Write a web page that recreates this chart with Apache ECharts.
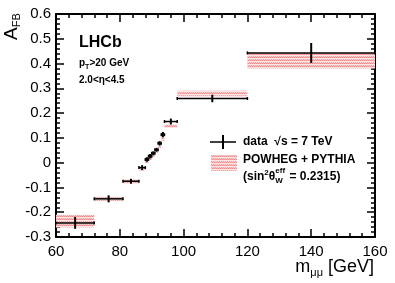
<!DOCTYPE html>
<html><head><meta charset="utf-8">
<script src="https://cdn.jsdelivr.net/npm/echarts@6/dist/echarts.min.js"></script>
</head>
<body style="margin:0;background:#fff">
<div id="c" style="width:395px;height:283px"></div>
<script>
// ---- data ----
const binLo  = [60, 72, 81, 86, 88, 89, 90, 91, 92, 93, 94, 98, 120];
const binHi  = [72, 81, 86, 88, 89, 90, 91, 92, 93, 94, 98, 120, 160];
const dataX  = [66, 76.5, 83.5, 87, 88.5, 89.5, 90.5, 91.5, 92.5, 93.5, 96, 109, 140];
const dataY  = [-0.243, -0.146, -0.075, -0.02, 0.013, 0.026, 0.038, 0.052, 0.078, 0.113, 0.166, 0.259, 0.443];
const dataErr= [0.024, 0.014, 0.01, 0.01, 0.009, 0.009, 0.008, 0.008, 0.009, 0.011, 0.012, 0.015, 0.04];
const predLo = [-0.262, -0.155, -0.083, -0.032, -0.002, 0.011, 0.024, 0.039, 0.060, 0.088, 0.140, 0.268, 0.380];
const predHi = [-0.210, -0.137, -0.069, -0.022, 0.007, 0.020, 0.033, 0.048, 0.070, 0.100, 0.156, 0.290, 0.444];
const xTicks = {min: 60, max: 160, step: 20, minor: 4};
const yTicks = {min: -0.3, max: 0.6, step: 0.1, minor: 0.02};

const FONT = '"Liberation Sans", Arial, Helvetica, sans-serif';
const mctx = document.createElement('canvas').getContext('2d');
function tw(t, size, bold) { mctx.font = (bold ? 'bold ' : '') + size + 'px ' + FONT; return mctx.measureText(t).width; }

function makePattern() {
  const c = document.createElement('canvas'); c.width = 4; c.height = 3;
  const g = c.getContext('2d');
  g.fillStyle = '#ffffff'; g.fillRect(0, 0, 4, 3);
  g.fillStyle = '#f28a8a'; g.fillRect(0, 0, 1, 1); g.fillRect(2, 0, 1, 1);
  g.fillStyle = '#f7b3b3'; g.fillRect(1, 0, 1, 1); g.fillRect(3, 0, 1, 1);
  g.fillStyle = '#fde6e6'; g.fillRect(0, 1, 4, 1);
  g.fillStyle = '#f5a2a2'; g.fillRect(1, 2, 1, 1); g.fillRect(3, 2, 1, 1);
  g.fillStyle = '#fad0d0'; g.fillRect(0, 2, 1, 1); g.fillRect(2, 2, 1, 1);
  return c;
}
const patCanvas = makePattern();
const patFill = {image: patCanvas, repeat: 'repeat'};

// text placed by its alphabetic baseline (x = left edge, b = baseline)
function txt(x, b, text, size, bold) {
  return {type: 'text', x: x, y: b - 0.35 * size, silent: true,
    style: {text: text, fill: '#000', font: (bold ? 'bold ' : '') + size + 'px ' + FONT,
      align: 'left', verticalAlign: 'middle'}};
}

// ---- graphic texts ----
const graphics = [];
graphics.push(txt(79, 48, 'LHCb', 16, true));
graphics.push(txt(79, 67, 'p', 10, true));
graphics.push(txt(79 + tw('p', 10, true), 70, 'T', 7, true));
graphics.push(txt(79 + tw('p', 10, true) + tw('T', 7, true), 67, '>20 GeV', 10, true));
graphics.push(txt(79, 84, '2.0<\u03b7<4.5', 10, true));

// x axis title (right aligned at 374)
(function () {
  const right = 374, base = 273;
  const wTail = tw(' [GeV]', 18, false), wSub = tw('\u03bc\u03bc', 11, false), wM = tw('m', 18, false);
  const x0 = right - wTail - wSub - wM;
  graphics.push(txt(x0, base, 'm', 18, false));
  graphics.push(txt(x0 + wM, base + 4, '\u03bc\u03bc', 11, false));
  graphics.push(txt(x0 + wM + wSub, base, ' [GeV]', 18, false));
})();

// y axis title, rotated (reads bottom to top)
(function () {
  const wA = tw('A', 19, false);
  graphics.push({type: 'group', x: 18, y: 40, rotation: Math.PI / 2, children: [
    txt(0, 0, 'A', 19, false),
    txt(wA, 3, 'FB', 11, false)
  ]});
})();

// legend
(function () {
  graphics.push({type: 'line', shape: {x1: 210, y1: 142, x2: 236, y2: 142}, style: {stroke: '#000', lineWidth: 1.5}});
  graphics.push({type: 'line', shape: {x1: 223, y1: 135, x2: 223, y2: 149}, style: {stroke: '#000', lineWidth: 2}});
  graphics.push(txt(243, 146, 'data  \u221as = 7 TeV', 12, true));
  graphics.push({type: 'rect', shape: {x: 211, y: 155, width: 26, height: 16}, style: {fill: patFill}});
  graphics.push(txt(243, 164, 'POWHEG + PYTHIA', 12, true));
  let x = 243; const b = 181;
  graphics.push(txt(x, b, '(sin', 12, true)); x += tw('(sin', 12, true);
  graphics.push(txt(x, b - 5, '2', 8, true)); x += tw('2', 8, true);
  graphics.push(txt(x, b, '\u03b8', 12, true)); x += tw('\u03b8', 12, true);
  graphics.push(txt(x, b - 7, 'eff', 8, true));
  graphics.push(txt(x, b + 3, 'W', 8, true)); x += Math.max(tw('eff', 8, true), tw('W', 8, true)) + 1;
  graphics.push(txt(x, b, ' = 0.2315)', 12, true));
})();

// axes: a major axis (with line, long ticks) and a minor-tick axis per side
function mkAxis(pos, t, major, labels, isY) {
  const ax = {
    type: 'value', position: pos, min: t.min, max: t.max,
    interval: major ? t.step : t.minor,
    axisLine: {show: major, onZero: false, lineStyle: {color: '#000', width: 2}},
    axisTick: {show: true, inside: true, length: major ? 8 : 4, lineStyle: {color: '#000', width: 1.5}},
    splitLine: {show: false},
    axisLabel: {show: labels, color: '#000', fontSize: 15, fontFamily: FONT, margin: isY ? 5 : 7,
      showMinLabel: true, showMaxLabel: true,
      formatter: isY ? (v => Math.abs(v) < 1e-9 ? '0' : (+v).toFixed(1)) : (v => String(Math.round(v)))}
  };
  return ax;
}

const bandData = binLo.map((v, i) => [binLo[i], binHi[i], predLo[i], predHi[i]]);
const pointData = binLo.map((v, i) => [binLo[i], binHi[i], dataX[i], dataY[i], dataErr[i]]);

const option = {
  animation: false,
  backgroundColor: '#fff',
  grid: {left: 56, right: 20, top: 14, bottom: 46},
  xAxis: [mkAxis('bottom', xTicks, true, true, false), mkAxis('top', xTicks, true, false, false),
          mkAxis('bottom', xTicks, false, false, false), mkAxis('top', xTicks, false, false, false)],
  yAxis: [mkAxis('left', yTicks, true, true, true), mkAxis('right', yTicks, true, false, true),
          mkAxis('left', yTicks, false, false, true), mkAxis('right', yTicks, false, false, true)],
  series: [
    {
      type: 'custom', name: 'POWHEG + PYTHIA', z: 1, data: bandData,
      xAxisIndex: 0, yAxisIndex: 0,
      encode: {x: [0, 1], y: [2, 3]},
      renderItem: function (p, api) {
        const a = api.coord([api.value(0), api.value(3)]);
        const b = api.coord([api.value(1), api.value(2)]);
        return {type: 'rect', shape: {x: a[0], y: a[1], width: b[0] - a[0], height: b[1] - a[1]}, style: {fill: patFill}};
      }
    },
    {
      type: 'custom', name: 'data', z: 5, data: pointData,
      xAxisIndex: 0, yAxisIndex: 0,
      encode: {x: [0, 1], y: 3},
      renderItem: function (p, api) {
        const lo = api.value(0), hi = api.value(1), x = api.value(2), y = api.value(3), e = api.value(4);
        const L = api.coord([lo, y]), R = api.coord([hi, y]);
        const T = api.coord([x, y + e]), B = api.coord([x, y - e]);
        const st = {stroke: '#000', lineWidth: 1.5};
        return {type: 'group', children: [
          {type: 'line', shape: {x1: L[0], y1: L[1], x2: R[0], y2: R[1]}, style: st},
          {type: 'line', shape: {x1: L[0], y1: L[1] - 1.5, x2: L[0], y2: L[1] + 1.5}, style: st},
          {type: 'line', shape: {x1: R[0], y1: R[1] - 1.5, x2: R[0], y2: R[1] + 1.5}, style: st},
          {type: 'line', shape: {x1: T[0], y1: T[1], x2: B[0], y2: B[1]}, style: {stroke: '#000', lineWidth: 2}}
        ]};
      }
    }
  ],
  graphic: graphics
};
const chart = echarts.init(document.getElementById('c'), null, {renderer: 'canvas'});
chart.setOption(option);
</script>
</body></html>
